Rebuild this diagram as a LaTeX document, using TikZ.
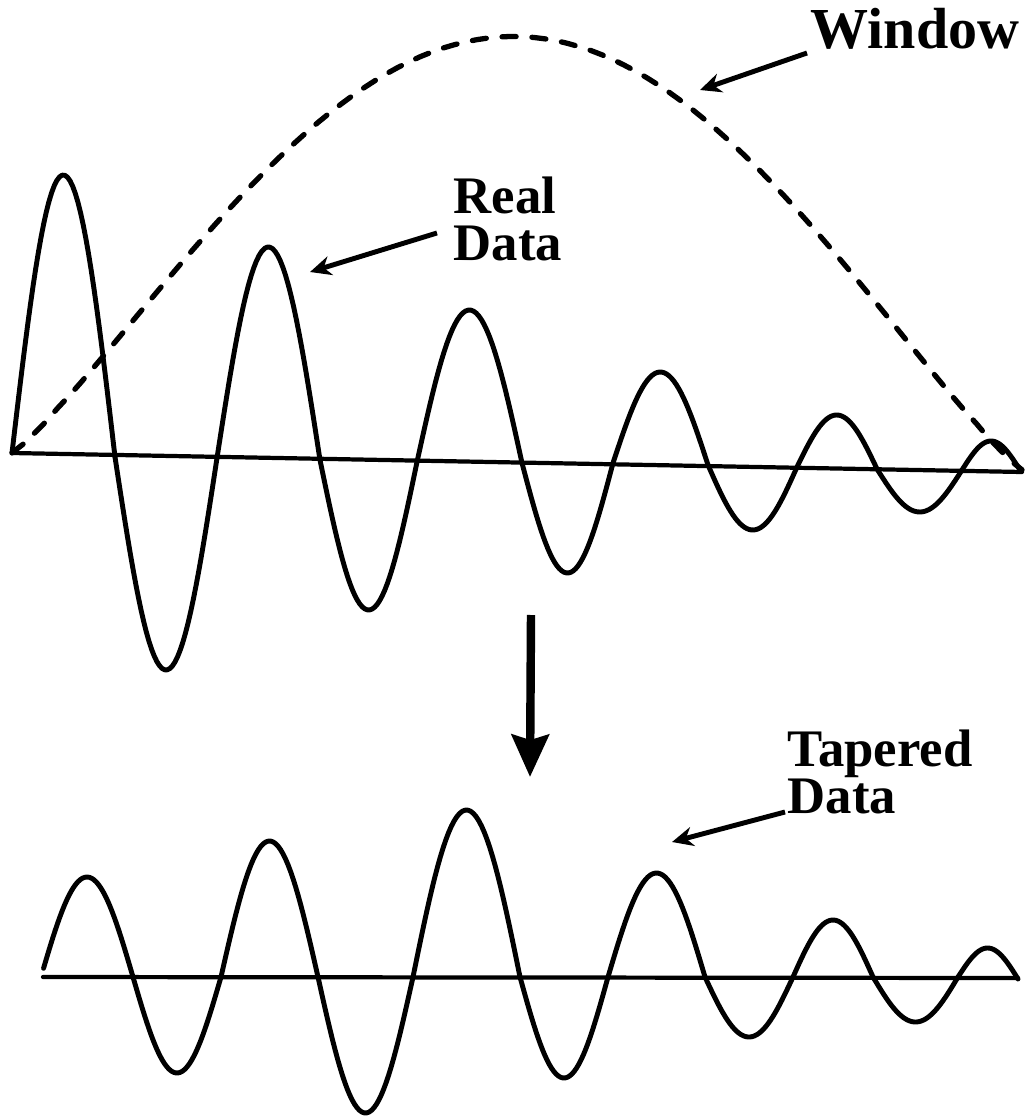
\documentclass[tikz,border=0pt]{standalone}
\usepackage{fontspec}
\setmainfont{Liberation Serif}
\usetikzlibrary{arrows.meta}

\begin{document}
\begin{tikzpicture}[
    x=0.01cm, y=-0.01cm,
    signal/.style={line width=1.4pt, line cap=round, line join=round},
    axis/.style={line width=1.2pt, line cap=round},
    window/.style={line width=1.5pt, line cap=round, dash pattern=on 4pt off 4.5pt},
    label/.style={font=\fontsize{15}{13.5}\selectfont\bfseries, inner sep=0pt, align=left},
    pointer/.style={line width=1.4pt, -{Stealth[length=6pt, width=5.5pt]}},
    bigarrow/.style={line width=2.4pt, -{Stealth[length=12pt, width=10.5pt, inset=1.5pt]}}
]
    \useasboundingbox (0,0) rectangle (1025,1116);

    % ==================== REAL DATA ====================
    \draw[axis] (12,453) -- (1022,472);
    \foreach \xa/\ya/\xb/\yb/\ye in {12/453/115/457/175, 115/457/217/458/670,
        217/458/320/460/247, 320/460/417/462/610, 417/462/522/463/310,
        522/463/613/463/573, 613/463/708/465/372, 708/465/797/467/530,
        797/467/877/469/415, 877/469/962/470/512, 962/470/1020/470/441}
        \draw[signal] plot[domain=0:180, samples=40, variable=\t]
            ({\xa+(\xb-\xa)/180*\t}, {\ya+(\yb-\ya)/180*\t+(\ye-(\ya+\yb)/2)*sin(\t)});

    % window
    \draw[window] plot[domain=0:180, samples=90, variable=\t]
        ({12+1010/180*\t}, {453+17/180*\t-425*max(sin(\t),0.001)^1.15});

    % ==================== TAPERED DATA ====================
    \draw[axis] (43,977) -- (1018,978);
    \draw[signal] plot[domain=5:180, samples=40, variable=\t]
        ({41+92/180*\t}, {977-100*sin(\t)});
    \foreach \xa/\ya/\xb/\yb/\ye in {133/977/221/977/1073, 221/977/318/977/841,
        318/977/413/977/1113, 413/977/520/977/810, 520/977/608/977/1078,
        608/977/705/977/873, 705/977/793/977/1037, 793/977/873/977/920,
        873/977/958/977/1022, 958/977/1018/979/948}
        \draw[signal] plot[domain=0:180, samples=40, variable=\t]
            ({\xa+(\xb-\xa)/180*\t}, {\ya+(\yb-\ya)/180*\t+(\ye-(\ya+\yb)/2)*sin(\t)});

    % ==================== LABELS ====================
    \node[label, font=\fontsize{16.5}{16}\selectfont\bfseries, anchor=base west]
        (window) at (810,49) {Window};
    \node[label, anchor=north west] (realdata) at (453,176) {Real\\Data};
    \node[label, anchor=north west] (tapered) at (787,729) {Tapered\\Data};

    \coordinate (windowtip) at (700,90);
    \coordinate (realtip) at (310,272);
    \coordinate (taperedtip) at (672,842);
    \coordinate (arrowtop) at (531,615);
    \coordinate (arrowend) at (530,777);

    \draw[pointer] ([shift={(-3,4)}]window.base west) -- (windowtip);
    \draw[pointer] ([shift={(-16,14)}]realdata.west) -- (realtip);
    \draw[pointer] ([shift={(-2,-3)}]tapered.south west) -- (taperedtip);
    \draw[bigarrow] (arrowtop) -- (arrowend);
\end{tikzpicture}
\end{document}
